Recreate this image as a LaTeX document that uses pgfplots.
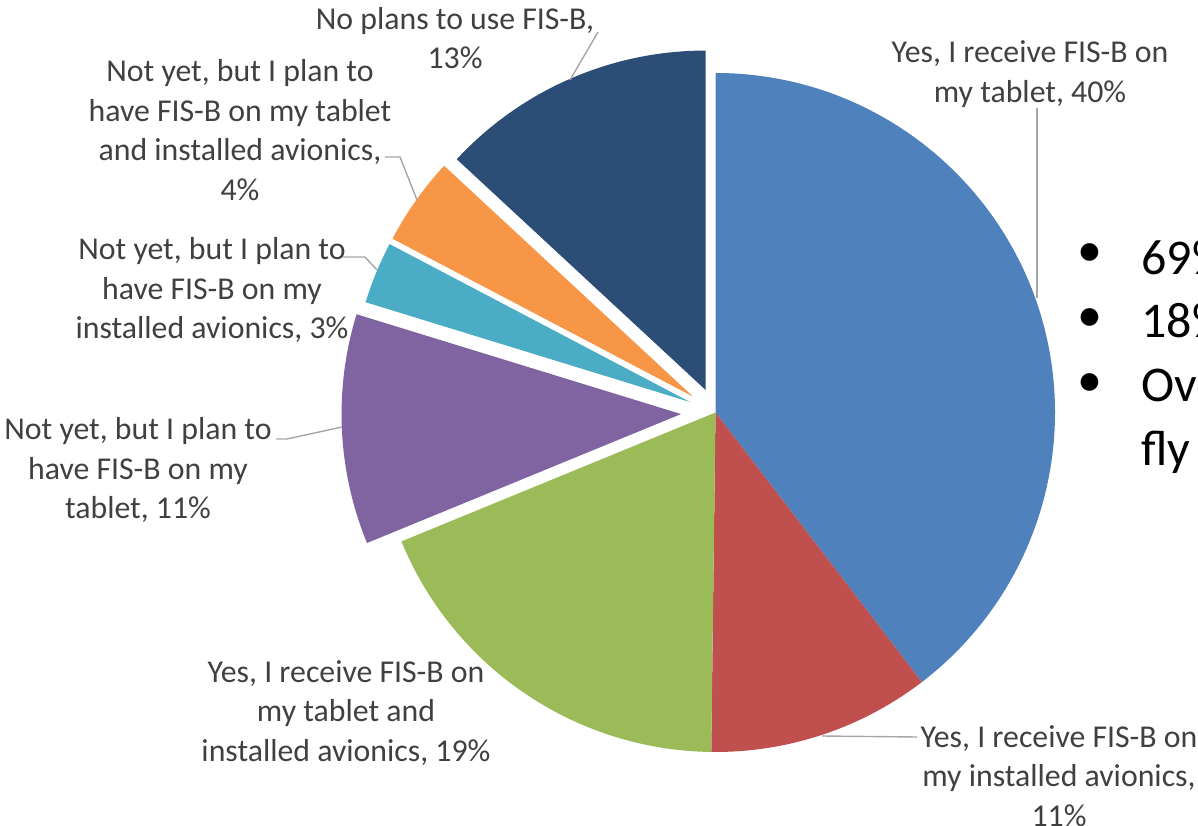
\documentclass[border=0pt]{standalone}
\usepackage{fontspec}
\setmainfont{Carlito}
\usepackage{pgfplots}
\usepackage{pgfplotstable}
\pgfplotsset{compat=1.18}
\usetikzlibrary{calc}

\definecolor{slice0}{HTML}{4F81BD}
\definecolor{slice1}{HTML}{C0504D}
\definecolor{slice2}{HTML}{9BBB59}
\definecolor{slice3}{HTML}{8064A2}
\definecolor{slice4}{HTML}{4BACC6}
\definecolor{slice5}{HTML}{F79646}
\definecolor{slice6}{HTML}{2C4D75}
\definecolor{labelgray}{HTML}{404040}
\definecolor{leadergray}{HTML}{A6A6A6}

\tikzset{
  lbl/.style={font=\fontsize{15.9}{19.7}\selectfont, align=center, text=labelgray, inner sep=0pt},
  leader/.style={draw=leadergray, line width=0.7pt},
  big/.style={font=\fontsize{25}{32}\selectfont, inner sep=0pt},
}

% share (%), explode (px), cumulative start (%)
\pgfplotstableread{
share  explode start
39.6   0       0
10.6   0       39.6
18.6   0       50.2
10.95  34.5    68.8
2.95   27.5    79.75
4.2    27.5    82.7
13.1   24.5    86.9
}\piedata

% #1 colour, #2 start %, #3 share %, #4 explode px
\newcommand{\slice}[4]{%
  \fill[#1] ($(axis cs:715.5,412.5)+({90-3.6*(#2+#3/2)}:{#4*0.5pt})$)
    -- ++({90-3.6*#2}:169.75pt)
    arc[start angle={90-3.6*#2}, end angle={90-3.6*(#2+#3)}, radius=169.75pt]
    -- cycle;}

\begin{document}
\begin{tikzpicture}
\begin{axis}[
  width=599pt, height=412.5pt, scale only axis,
  xmin=0, xmax=1198, ymin=0, ymax=825,
  hide axis, clip=false,
]
\pgfplotsinvokeforeach{0,...,6}{%
  \pgfplotstablegetelem{#1}{share}\of\piedata \let\vshare\pgfplotsretval
  \pgfplotstablegetelem{#1}{explode}\of\piedata \let\vexp\pgfplotsretval
  \pgfplotstablegetelem{#1}{start}\of\piedata \let\vstart\pgfplotsretval
  \edef\tmp{\noexpand\slice{slice#1}{\vstart}{\vshare}{\vexp}}\tmp
}

% leader lines
\draw[leader] (axis cs:1037,717) -- (axis cs:1037,527);
\draw[leader] (axis cs:822,89) -- (axis cs:917,88);
\draw[leader] (axis cs:276,386) -- (axis cs:287,386) -- (axis cs:342,398);
\draw[leader] (axis cs:343,568) -- (axis cs:365,568) -- (axis cs:377,555);
\draw[leader] (axis cs:385,668) -- (axis cs:400,668) -- (axis cs:417,625);
\draw[leader] (axis cs:598,793) -- (axis cs:570,745);

% data labels
\node[lbl] at (axis cs:1030,751) {Yes, I receive FIS-B on\\my tablet, 40\%};
\node[lbl] at (axis cs:1059,49) {Yes, I receive FIS-B on\\my installed avionics,\\11\%};
\node[lbl] at (axis cs:346,112) {Yes, I receive FIS-B on\\my tablet and\\installed avionics, 19\%};
\node[lbl] at (axis cs:138,355) {Not yet, but I plan to\\have FIS-B on my\\tablet, 11\%};
\node[lbl] at (axis cs:212,535) {Not yet, but I plan to\\have FIS-B on my\\installed avionics, 3\%};
\node[lbl] at (axis cs:240,695) {Not yet, but I plan to\\have FIS-B on my tablet\\and installed avionics,\\4\%};
\node[lbl] at (axis cs:455,787) {No plans to use FIS-B,\\13\%};

% slide bullet text (cut by the page edge)
\node[big] at (axis cs:1090,570) {•};
\node[big] at (axis cs:1090,505) {•};
\node[big] at (axis cs:1090,440) {•};
\node[big, anchor=base west] at (axis cs:1141,550) {69\%};
\node[big, anchor=base west] at (axis cs:1141,487) {18\%};
\node[big, anchor=base west] at (axis cs:1141,423) {Over};
\node[big, anchor=base west] at (axis cs:1141,359) {fly};
\end{axis}
\pgfresetboundingbox
\path[use as bounding box] (0,0) rectangle (599pt,412.5pt);
\end{tikzpicture}
\end{document}
